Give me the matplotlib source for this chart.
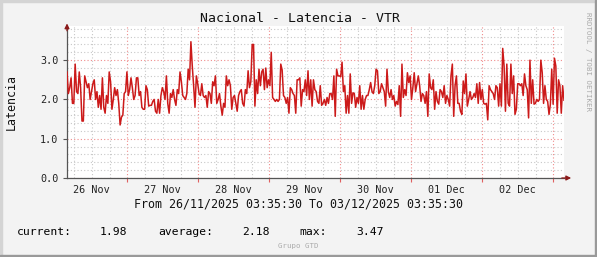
import matplotlib
matplotlib.use('Agg')
import matplotlib.pyplot as plt
import matplotlib.dates as mdates
import matplotlib.ticker as ticker
from matplotlib.patches import Rectangle
import pandas as pd

# --- Settings ---
TITLE = 'Nacional - Latencia - VTR'
Y_LABEL = 'Latencia'
START = '2025-11-26 03:35:30'
END = '2025-12-03 03:35:30'
PERIOD_TEXT = 'From 26/11/2025 03:35:30 To 03/12/2025 03:35:30'
WATERMARK = 'RRDTOOL / TOBI OETIKER'
FOOTER = 'Grupo GTD'
Y_MAX = 3.87

# legend values as printed under the graph
CURRENT = 1.98
AVERAGE = 2.18
MAXIMUM = 3.47

# latency samples (one block per day)
latency = [
    # 26 Nov
    2.7, 2.15, 2.3, 2.55, 1.9, 1.9, 2.9, 2.2, 2.15, 2.7, 2.3, 1.45, 1.45, 2.6, 2.45,
    2.3, 2.4, 2.0, 2.2, 2.4, 2.5, 2.0, 2.2, 1.8, 2.1, 1.75, 2.55, 1.8, 1.65, 2.1,
    1.9, 2.7, 2.45, 1.75, 2.0, 2.3, 2.1, 2.25, 1.9, 1.35, 1.55, 1.6, 2.15, 2.2, 2.7,
    2.1, 2.25, 2.55, 2.3, 2.0,
    # 27 Nov
    2.1, 2.55, 2.55, 2.1, 2.2, 1.8, 1.75, 1.75, 2.35, 2.25, 1.83, 1.85, 1.85, 1.95,
    2.0, 1.7, 1.65, 2.0, 1.65, 2.1, 2.3, 2.2, 2.0, 2.6, 1.9, 1.65, 2.15, 2.05, 2.25,
    2.0, 1.85, 2.25, 2.15, 2.7, 2.45, 2.1, 2.05, 2.0, 2.15, 2.77, 2.5, 3.47, 2.85,
    2.35, 1.8, 2.6, 2.4, 2.15, 2.1, 2.4, 2.1, 2.05,
    # 28 Nov
    2.1, 1.8, 2.2, 2.15, 1.9, 2.45, 2.35, 2.6, 1.9, 2.0, 2.15, 1.83, 1.6, 1.9, 1.8,
    2.6, 2.35, 2.5, 2.35, 1.75, 2.05, 2.1, 1.9, 1.7, 2.1, 2.2, 2.25, 1.9, 1.83, 2.25,
    2.15, 2.73, 2.3, 2.45, 3.4, 3.4, 1.83, 2.5, 2.15, 2.77, 2.35, 2.7, 2.77, 2.25,
    2.8, 2.3, 2.5, 2.35, 3.2, 2.05, 2.0, 1.95, 2.0,
    # 29 Nov
    1.95, 2.0, 2.9, 2.75, 2.1, 2.05, 1.9, 2.05, 1.65, 2.3, 2.25, 2.15, 2.1, 1.65, 2.5,
    2.5, 2.55, 1.83, 2.25, 2.2, 2.5, 2.1, 2.73, 2.0, 2.5, 1.83, 2.5, 2.25, 2.2, 1.95,
    1.9, 2.35, 1.85, 1.9, 2.0, 1.85, 2.05, 1.9, 2.15, 2.15, 2.0, 2.6, 1.57, 2.77, 2.6,
    2.6, 2.58, 2.95, 2.2, 2.35, 1.65, 2.1,
    # 30 Nov
    1.65, 2.65, 1.9, 2.17, 2.15, 1.8, 2.05, 1.9, 2.35, 1.75, 2.1, 1.75, 2.0, 2.1, 2.1,
    2.25, 2.43, 2.2, 2.15, 2.35, 2.77, 2.73, 2.15, 2.2, 2.4, 2.3, 2.2, 1.83, 2.77, 2.2,
    2.05, 2.25, 2.0, 2.1, 1.83, 1.95, 1.87, 2.35, 1.57, 2.9, 2.05, 2.25, 2.1, 2.68,
    2.43, 2.6, 2.0, 2.3, 2.68, 2.2, 2.4,
    # 01 Dec
    2.6, 2.35, 1.95, 2.15, 2.1, 1.9, 2.2, 1.57, 2.65, 2.3, 2.25, 2.5, 1.75, 2.2, 1.95,
    1.88, 2.25, 2.2, 2.05, 2.35, 1.9, 2.1, 2.0, 1.83, 2.6, 2.9, 1.57, 2.35, 2.6, 1.9,
    1.9, 1.7, 1.62, 2.47, 2.15, 2.65, 1.83, 2.0, 2.2, 2.0, 2.05, 2.15, 2.05, 2.4, 1.9,
    2.43, 2.0, 2.25, 1.9, 1.88,
    # 02 Dec - 03 Dec
    1.9, 1.48, 2.35, 2.25, 2.2, 2.15, 2.0, 2.35, 2.3, 1.83, 2.4, 1.83, 3.3,
    2.85, 1.7, 2.9, 1.9, 1.83, 2.9, 2.15, 2.6, 1.62, 1.75, 2.4, 2.4, 2.35, 2.4, 2.1,
    2.65, 2.35, 2.25, 1.53, 3.0, 1.9, 2.5, 1.88, 1.9, 2.0, 1.95, 2.0, 3.0, 2.68,
    1.9, 2.35, 2.0, 1.95, 1.62, 1.88, 2.77, 1.88, 3.05, 2.85, 1.65, 2.5, 2.35,
    1.65, 2.35, 1.98,
]

MONO = 'DejaVu Sans Mono'
W, H = 597, 257

# --- Figure ---
fig = plt.figure(figsize=(W / 100, H / 100), dpi=100, facecolor='#f3f3f3')

# rrdtool style frame
fig.patches.append(Rectangle((0, 1 - 2 / H), 1, 2 / H, transform=fig.transFigure,
                             color='#d4d4d4', zorder=0))
fig.patches.append(Rectangle((0, 0), 2 / W, 1, transform=fig.transFigure,
                             color='#d4d4d4', zorder=0))
fig.patches.append(Rectangle((1 - 2 / W, 0), 2 / W, 1, transform=fig.transFigure,
                             color='#999999', zorder=0))
fig.patches.append(Rectangle((0, 0), 1, 2 / H, transform=fig.transFigure,
                             color='#999999', zorder=0))

ax = fig.add_axes([67 / W, 79 / H, 497 / W, 152 / H])
ax.set_facecolor('white')

times = pd.date_range(START, END, periods=len(latency))
ax.plot(times, latency, color='#cc1a1a', lw=1.1, zorder=3)

ax.set_xlim(pd.Timestamp(START), pd.Timestamp(END))
ax.set_ylim(0, Y_MAX)

# --- Grid ---
ax.xaxis.set_major_locator(mdates.HourLocator(byhour=[0]))
ax.xaxis.set_minor_locator(mdates.HourLocator(byhour=[6, 12, 18]))
ax.xaxis.set_major_formatter(ticker.NullFormatter())


def day_label(x, pos):
    d = mdates.num2date(x)
    return d.strftime('%d %b') if d.hour == 12 else ''


ax.xaxis.set_minor_formatter(ticker.FuncFormatter(day_label))
ax.yaxis.set_major_locator(ticker.MultipleLocator(1.0))
ax.yaxis.set_minor_locator(ticker.MultipleLocator(0.2))
ax.yaxis.set_major_formatter(ticker.FormatStrFormatter('%.1f'))

ax.grid(which='minor', color='#c8c8c8', linestyle=(0, (1, 2)), lw=0.8, zorder=1)
ax.grid(which='major', color='#f08c8c', linestyle=(0, (1, 2)), lw=0.8, zorder=2)

ax.tick_params(axis='x', which='major', length=3, color='#e06060', labelsize=0)
ax.tick_params(axis='x', which='minor', length=0, pad=5, labelsize=7.3,
               labelcolor='#222222')
ax.tick_params(axis='y', which='major', length=3, color='#555555', pad=3,
               labelsize=7.3, labelcolor='#222222')
ax.tick_params(axis='y', which='minor', length=0)
for lab in ax.get_xticklabels(minor=True) + ax.get_yticklabels():
    lab.set_fontfamily(MONO)

for side in ['top', 'right']:
    ax.spines[side].set_visible(False)
for side in ['left', 'bottom']:
    ax.spines[side].set_color('#555555')
    ax.spines[side].set_linewidth(0.9)

# axis arrows
ax.annotate('', xy=(0, 1.035), xytext=(0, 0.95), xycoords='axes fraction',
            arrowprops=dict(arrowstyle='-|>', color='#8b1a1a', lw=0.9,
                            mutation_scale=7), annotation_clip=False)
ax.annotate('', xy=(1.02, 0), xytext=(0.99, 0), xycoords='axes fraction',
            arrowprops=dict(arrowstyle='-|>', color='#8b1a1a', lw=0.9,
                            mutation_scale=7), annotation_clip=False)

# --- Texts ---
fig.text(300 / W, 1 - 19 / H, TITLE, family=MONO, fontsize=9.5, ha='center',
         va='center', color='#111111')
fig.text(11 / W, 1 - 102 / H, Y_LABEL, family=MONO, fontsize=8.4, rotation=90,
         ha='center', va='center', color='#111111')
fig.text(298 / W, 1 - 204 / H, PERIOD_TEXT, family=MONO, fontsize=8.4,
         ha='center', va='center', color='#111111')

legend_y = 1 - 232 / H
fig.text(17 / W, legend_y, 'current:', family=MONO, fontsize=8.2, va='center')
fig.text(100 / W, legend_y, f'{CURRENT:.2f}', family=MONO, fontsize=8.2, va='center')
fig.text(158 / W, legend_y, 'average:', family=MONO, fontsize=8.2, va='center')
fig.text(242 / W, legend_y, f'{AVERAGE:.2f}', family=MONO, fontsize=8.2, va='center')
fig.text(299 / W, legend_y, 'max:', family=MONO, fontsize=8.2, va='center')
fig.text(356 / W, legend_y, f'{MAXIMUM:.2f}', family=MONO, fontsize=8.2, va='center')

fig.text(298 / W, 1 - 246 / H, FOOTER, family=MONO, fontsize=5.3, ha='center',
         va='center', color='#aaaaaa')
fig.text(588 / W, 1 - 62 / H, WATERMARK, family=MONO, fontsize=5.3, rotation=270,
         ha='center', va='center', color='#aaaaaa')

fig.savefig('out.png', dpi=100, facecolor=fig.get_facecolor())
